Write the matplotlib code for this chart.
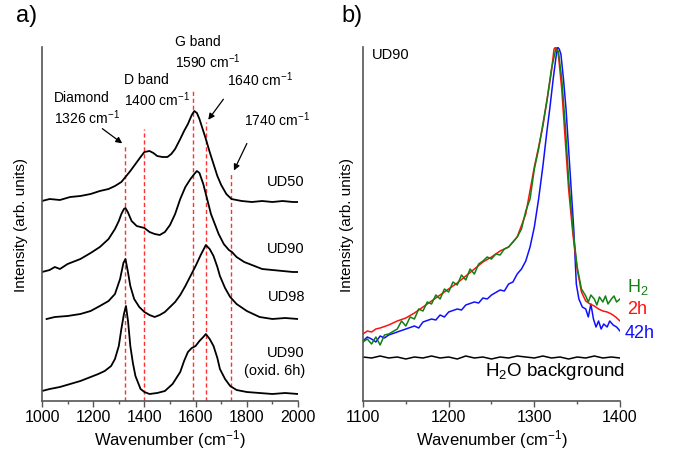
import numpy as np
import matplotlib
matplotlib.use('Agg')
import matplotlib.pyplot as plt

plt.rcParams['font.family'] = ['Liberation Sans', 'DejaVu Sans']
plt.rcParams['mathtext.default'] = 'regular'

# ---- panel a) spectra (y in arbitrary units, stacked) ----
ud50_x = [1000,1030,1070,1110,1150,1190,1226,1260,1285,1310,1326,1345,1365,1385,1400,1420,1435,1450,1470,
          1490,1505,1520,1540,1555,1570,1585,1595,1605,1615,1630,1640,1655,1670,1685,1700,1720,1740,1760,
          1780,1820,1860,1900,1940,1980,2000]
ud50_y = [200,202,201,204,205,207,210,212,215,219,224,230,237,244,249,250,248,245,244,244,247,252,262,270,
          277,286,290,288,282,270,262,249,237,225,216,207,202,201,200,199,200,199,200,199,199]

ud90_x = [1000,1030,1050,1070,1100,1150,1190,1226,1260,1285,1300,1310,1320,1326,1335,1350,1370,1385,1400,
          1420,1440,1460,1480,1500,1520,1540,1560,1580,1595,1605,1615,1630,1645,1660,1675,1690,1710,1730,
          1742,1760,1790,1820,1860,1900,1940,1980,2000]
ud90_y = [129,131,134,132,137,142,148,154,162,172,180,187,192,193,189,180,175,174,173,169,167,166,169,176,
          187,202,214,222,227,230,228,217,202,187,177,167,157,151,149,144,139,136,132,131,130,129,129]

ud98_x = [1018,1050,1100,1150,1190,1226,1260,1285,1305,1318,1326,1335,1345,1360,1380,1400,1420,1440,1460,
          1480,1500,1520,1540,1560,1580,1600,1620,1640,1655,1670,1685,1695,1715,1735,1760,1800,1850,1900,
          1950,2000]
ud98_y = [82,84,85,87,90,95,100,107,122,138,142,130,115,102,94,89,86,84,86,89,94,99,106,115,125,135,146,156,
          152,145,134,125,113,104,97,90,84,82,83,82]

oxid_x = [1000,1030,1070,1110,1150,1190,1220,1245,1270,1285,1300,1310,1320,1328,1336,1345,1355,1365,1385,
          1400,1420,1450,1480,1510,1540,1555,1570,1585,1600,1615,1630,1640,1655,1670,1685,1695,1715,1735,
          1760,1800,1850,1900,1950,2000]
oxid_y = [10,12,14,17,20,24,27,30,35,42,55,72,87,95,80,55,38,25,12,9,7,8,10,17,29,40,49,53,55,60,64,67,62,
          55,43,32,22,15,11,9,8,7,8,7]

band_pos = [1326, 1400, 1590, 1640, 1740]
band_top = [255, 272, 310, 279, 227]

labels_a = ['UD50', 'UD90', 'UD98', 'UD90\n(oxid. 6h)']
labels_a_y = [220, 153, 105, 40]

# ---- panel b) UD90 diamond peak ----
h2_x = [1100,1105,1110,1115,1120,1125,1130,1140,1145,1150,1155,1160,1165,1170,1175,1180,1185,1190,1195,1200,
        1205,1210,1215,1220,1225,1230,1235,1240,1245,1250,1255,1260,1265,1270,1275,1280,1285,1290,1295,1300,
        1305,1310,1315,1320,1325,1328,1332,1336,1340,1345,1350,1355,1360,1363,1366,1370,1373,1376,1380,1383,
        1386,1390,1393,1396,1400]
h2_y = [59,62,57,64,56,66,67,72,80,75,84,82,92,90,99,97,106,102,112,109,119,116,126,121,132,127,137,140,144,
        142,147,146,152,154,159,164,172,190,202,232,252,277,302,332,352,350,322,277,222,172,134,112,105,99,
        106,102,96,104,99,105,97,102,105,99,102]

h2o2_x = [1100,1105,1110,1115,1120,1130,1140,1150,1160,1170,1180,1190,1200,1210,1220,1230,1240,1250,1260,
          1270,1280,1290,1300,1305,1310,1315,1320,1323,1325,1328,1332,1336,1340,1345,1350,1355,1360,1365,
          1370,1375,1380,1385,1390,1395,1400]
h2o2_y = [67,70,69,72,73,76,80,83,88,94,100,106,112,118,125,132,139,144,150,154,164,187,234,254,275,302,330,
          352,354,347,312,262,212,167,132,109,100,97,95,92,90,89,87,84,80]

h42_x = [1100,1105,1110,1115,1120,1125,1130,1140,1150,1160,1165,1170,1180,1185,1190,1195,1200,1210,1215,1220,
         1230,1235,1240,1245,1250,1260,1265,1270,1275,1280,1285,1290,1295,1300,1305,1310,1315,1318,1322,1325,
         1327,1329,1331,1334,1337,1340,1343,1346,1349,1352,1356,1360,1363,1366,1369,1372,1375,1378,1381,1385,
         1388,1392,1396,1400]
h42_y = [60,64,62,59,65,63,66,69,72,75,73,79,82,81,86,84,89,92,91,96,99,98,103,102,106,111,110,117,119,127,
         132,140,154,174,202,235,272,292,322,342,354,352,347,322,292,252,212,172,117,102,94,92,84,97,82,74,
         80,72,77,74,80,76,74,70]

bg_x = [1100,1110,1120,1130,1140,1150,1160,1170,1180,1190,1200,1210,1220,1230,1240,1250,1260,1270,1280,1290,
        1300,1310,1320,1330,1340,1350,1360,1370,1380,1390,1400]
bg_y = [44,43,45,43,44,42,44,43,45,43,44,42,45,43,44,42,44,43,45,44,43,45,43,44,42,44,43,45,43,44,43]

fig = plt.figure(figsize=(6.73, 4.52), dpi=100)
ax1 = fig.add_axes([42/673, 1-402/452, 256/673, 354/452])
ax2 = fig.add_axes([363/673, 1-402/452, 257/673, 354/452])

for ax in (ax1, ax2):
    for s in ('top', 'right'):
        ax.spines[s].set_visible(False)
    for s in ('left', 'bottom'):
        ax.spines[s].set_color('#555555')
        ax.spines[s].set_linewidth(1.2)
    ax.set_yticks([])
    ax.set_ylim(0, 354)
    ax.tick_params(axis='x', which='major', direction='out', length=4, width=1, colors='#555555',
                   labelsize=11.5, labelcolor='black', pad=2)
    ax.tick_params(axis='x', which='minor', direction='out', length=2.5, width=1, colors='#555555')
    ax.set_xlabel('Wavenumber (cm$^{-1}$)', fontsize=12, labelpad=2)

# panel a
ax1.set_xlim(1000, 2000)
ax1.set_xticks(np.arange(1000, 2001, 200))
ax1.set_xticks(np.arange(1100, 2000, 200), minor=True)
for xx, top in zip(band_pos, band_top):
    ax1.plot([xx, xx], [0, top], color='#ff3030', lw=1.0, ls=(0, (3, 2)))
for xs, ys in [(ud50_x, ud50_y), (ud90_x, ud90_y), (ud98_x, ud98_y), (oxid_x, oxid_y)]:
    ax1.plot(xs, ys, color='black', lw=1.3)
for lab, yy in zip(labels_a, labels_a_y):
    ax1.text(2027, yy, lab, ha='right', va='center', fontsize=10.5, clip_on=False, linespacing=1.4)

ann = dict(fontsize=10, ha='left', va='center', clip_on=False)
ax1.text(1047, 304, 'Diamond', **ann)
ax1.text(1047, 284, '1326 cm$^{-1}$', **ann)
ax1.text(1320, 322, 'D band', **ann)
ax1.text(1320, 302, '1400 cm$^{-1}$', **ann)
ax1.text(1518, 360, 'G band', **ann)
ax1.text(1518, 340, '1590 cm$^{-1}$', **ann)
ax1.text(1722, 322, '1640 cm$^{-1}$', **ann)
ax1.text(1788, 282, '1740 cm$^{-1}$', **ann)
arr = dict(arrowstyle='-|>', color='black', lw=0.9, mutation_scale=9)
ax1.annotate('', xy=(1322, 256), xytext=(1227, 274), arrowprops=arr)
ax1.annotate('', xy=(1643, 279), xytext=(1715, 304), arrowprops=arr)
ax1.annotate('', xy=(1745, 228), xytext=(1805, 260), arrowprops=arr)

# panel b
ax2.set_xlim(1100, 1400)
ax2.set_xticks(np.arange(1100, 1401, 100))
ax2.set_xticks(np.arange(1150, 1400, 100), minor=True)
ax2.plot(bg_x, bg_y, color='black', lw=1.1)
ax2.plot(h42_x, h42_y, color='#1010ff', lw=1.1)
ax2.plot(h2o2_x, h2o2_y, color='#ff1010', lw=1.1)
ax2.plot(h2_x, h2_y, color='#128012', lw=1.1)
ax2.text(1110.5, 347, 'UD90', fontsize=10.5, ha='left', va='center')
ax2.text(1408, 115, 'H$_2$', color='#128012', fontsize=13, ha='left', va='center', clip_on=False)
ax2.text(1408, 92, '2h', color='#ff1010', fontsize=13, ha='left', va='center', clip_on=False)
ax2.text(1405, 69, '42h', color='#1010ff', fontsize=13, ha='left', va='center', clip_on=False)
ax2.text(1406, 30, 'H$_2$O background', color='black', fontsize=13.5, ha='right', va='center',
         clip_on=False)

fig.text(21/673, 1-225/452, 'Intensity (arb. units)', rotation=90, ha='center', va='center', fontsize=11)
fig.text(347/673, 1-225/452, 'Intensity (arb. units)', rotation=90, ha='center', va='center', fontsize=11)
fig.text(27/673, 1-16/452, 'a)', ha='center', va='center', fontsize=17)
fig.text(352/673, 1-16/452, 'b)', ha='center', va='center', fontsize=17)

fig.savefig('out.png', dpi=100)
